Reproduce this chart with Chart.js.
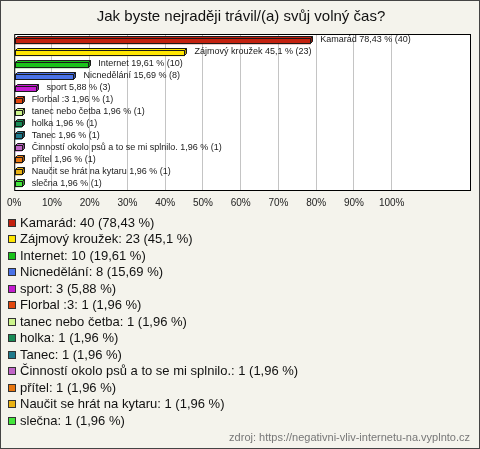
<!DOCTYPE html>
<html lang="cs">
<head>
<meta charset="utf-8">
<title>Jak byste nejraději trávil/(a) svůj volný čas?</title>
<script src="https://cdn.jsdelivr.net/npm/chart.js@4.4.0/dist/chart.umd.min.js"></script>
<style>
  html, body { margin: 0; padding: 0; background: #f4f3ec; }
  canvas { display: block; }
</style>
</head>
<body>
<canvas id="myChart" width="480" height="449"></canvas>
<script>
// data z obrázku
const chartTitle = 'Jak byste nejraději trávil/(a) svůj volný čas?'
const categories = [
  'Kamarád',
  'Zájmový kroužek',
  'Internet',
  'Nicnedělání',
  'sport',
  'Florbal :3',
  'tanec nebo četba',
  'holka',
  'Tanec',
  'Činností okolo psů a to se mi splnilo.',
  'přítel',
  'Naučit se hrát na kytaru',
  'slečna'
]
const counts = [40, 23, 10, 8, 3, 1, 1, 1, 1, 1, 1, 1, 1]
const percentages = [78.43, 45.1, 19.61, 15.69, 5.88, 1.96, 1.96, 1.96, 1.96, 1.96, 1.96, 1.96, 1.96]
const barColors = [
  '#c3210f', '#ffe600', '#19c219', '#4a72e8', '#c41cd0', '#e2470e', '#cdf58c',
  '#178a55', '#1f7a8c', '#c165c8', '#e8760f', '#eab213', '#44e63c'
]
const tickValues = [0, 10, 20, 30, 40, 50, 60, 70, 80, 90, 100]
const sourceText = 'zdroj: https://negativni-vliv-internetu-na.vyplnto.cz'

const FONT = '"Liberation Sans", Arial, sans-serif'
Chart.defaults.font.family = FONT

// čísla s desetinnou čárkou
function cz(v) {
  return String(v).replace('.', ',')
}

// ztmavení barvy pro boční stěnu
function darker(hex, f) {
  const n = parseInt(hex.slice(1), 16)
  const r = ((n >> 16) & 255) * (1 - f)
  const g = ((n >> 8) & 255) * (1 - f)
  const b = (n & 255) * (1 - f)
  return `rgb(${Math.round(r)}, ${Math.round(g)}, ${Math.round(b)})`
}

const backgroundPlugin = {
  id: 'background',
  beforeDraw(chart) {
    const { ctx, chartArea, width, height } = chart
    ctx.save()
    ctx.fillStyle = '#f4f3ec'
    ctx.fillRect(0, 0, width, height)
    ctx.fillStyle = '#ffffff'
    ctx.fillRect(chartArea.left, chartArea.top - 1, chartArea.right - chartArea.left, chartArea.bottom - chartArea.top + 1)
    ctx.restore()
  }
}

const decorPlugin = {
  id: 'decor',
  afterDatasetsDraw(chart) {
    const { ctx } = chart
    const meta = chart.getDatasetMeta(0)
    const d = 2
    ctx.save()
    ctx.lineWidth = 1
    ctx.strokeStyle = '#1a1a1a'
    meta.data.forEach((el, i) => {
      const p = el.getProps(['x', 'y', 'base', 'height'], true)
      const left = Math.round(p.base) + 0.5
      const right = Math.round(p.x) + 0.5
      const top = Math.round(p.y - p.height / 2) + 0.5
      const bottom = top + p.height - 1
      // přední stěna - obrys na celé pixely
      ctx.fillStyle = barColors[i]
      ctx.fillRect(left, top, right - left, bottom - top)
      ctx.strokeRect(left, top, right - left, bottom - top)
      // horní stěna
      ctx.beginPath()
      ctx.moveTo(left, top)
      ctx.lineTo(left + d, top - d)
      ctx.lineTo(right + d, top - d)
      ctx.lineTo(right, top)
      ctx.closePath()
      ctx.fillStyle = barColors[i]
      ctx.fill()
      ctx.stroke()
      // pravá stěna
      ctx.beginPath()
      ctx.moveTo(right, top)
      ctx.lineTo(right + d, top - d)
      ctx.lineTo(right + d, bottom - d)
      ctx.lineTo(right, bottom)
      ctx.closePath()
      ctx.fillStyle = darker(barColors[i], 0.3)
      ctx.fill()
      ctx.stroke()

      // popisek u sloupce
      ctx.fillStyle = '#1a1a1a'
      ctx.font = '9px ' + FONT
      ctx.textAlign = 'left'
      ctx.textBaseline = 'middle'
      const label = `${categories[i]} ${cz(percentages[i])} % (${counts[i]})`
      ctx.fillText(label, p.x + 10, p.y - 1)
    })
    ctx.restore()
  },
  afterDraw(chart) {
    const { ctx, chartArea, width, height } = chart
    ctx.save()
    // rámeček grafu
    ctx.strokeStyle = '#000'
    ctx.lineWidth = 1
    ctx.strokeRect(chartArea.left + 0.5, chartArea.top - 0.5,
      chartArea.right - chartArea.left - 1, chartArea.bottom - chartArea.top + 1)

    // legenda
    ctx.font = '13px ' + FONT
    ctx.textAlign = 'left'
    ctx.textBaseline = 'middle'
    categories.forEach((name, i) => {
      const y = Math.round(222.5 + i * 16.5)
      ctx.fillStyle = barColors[i]
      ctx.fillRect(8, y - 4, 8, 8)
      ctx.strokeStyle = '#333'
      ctx.strokeRect(8.5, y - 3.5, 7, 7)
      ctx.fillStyle = '#111'
      ctx.fillText(`${name}: ${counts[i]} (${cz(percentages[i])} %)`, 20, y + 0.5)
    })

    // zdroj
    ctx.font = '11px ' + FONT
    ctx.fillStyle = '#777'
    ctx.textAlign = 'right'
    ctx.fillText(sourceText, 470, 438)

    // vnější rámeček
    ctx.strokeStyle = '#444'
    ctx.strokeRect(0.5, 0.5, width - 1, height - 1)
    ctx.restore()
  }
}

const ctx = document.getElementById('myChart').getContext('2d')
new Chart(ctx, {
  type: 'bar',
  data: {
    labels: categories,
    datasets: [
      {
        data: percentages,
        backgroundColor: barColors,
        borderWidth: 0,
        barThickness: 6
      }
    ]
  },
  options: {
    indexAxis: 'y',
    responsive: false,
    animation: false,
    layout: { padding: { left: 11, right: 9, top: 0, bottom: 0 } },
    scales: {
      x: {
        min: 0,
        max: 121,
        afterBuildTicks: (scale) => {
          scale.ticks = tickValues.map(v => ({ value: v }))
        },
        afterFit: (scale) => {
          scale.height = 259
        },
        grid: { color: '#c4c4c4', drawTicks: false },
        border: { display: false },
        ticks: {
          padding: 7,
          color: '#222',
          font: { size: 10 },
          maxRotation: 0,
          callback: (v) => v + '%'
        }
      },
      y: { display: false }
    },
    plugins: {
      legend: { display: false },
      tooltip: { enabled: false },
      title: {
        display: true,
        text: chartTitle,
        color: '#111',
        font: { size: 15, weight: 'normal' },
        padding: { top: 8, bottom: 9 }
      }
    }
  },
  plugins: [backgroundPlugin, decorPlugin]
})
</script>
</body>
</html>
